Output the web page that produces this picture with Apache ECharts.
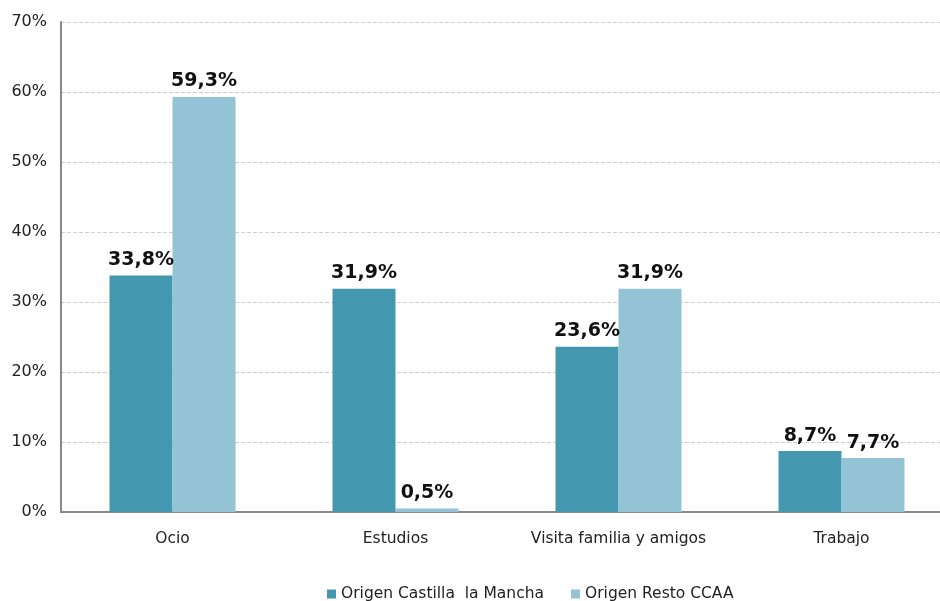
<!DOCTYPE html>
<html lang="es">
<head>
    <meta charset="UTF-8">
    <title>Motivo del viaje</title>
    <script src="https://cdn.jsdelivr.net/npm/echarts@6/dist/echarts.min.js"></script>
    <style>body{margin:0;background:#fff;overflow:hidden;}</style>
</head>
<body>
<!-- el grafico original queda recortado por la derecha -->
<div id="main" style="width: 960px;height:601px;"></div>

<script type="text/javascript">
    // datos
    var categorias = ['Ocio', 'Estudios', 'Visita familia y amigos', 'Trabajo'];
    var castillaLaMancha = [33.8, 31.9, 23.6, 8.7];
    var restoCCAA = [59.3, 0.5, 31.9, 7.7];
    var nombres = ['Origen Castilla  la Mancha', 'Origen Resto CCAA'];

    var myChart = echarts.init(document.getElementById('main'));

    function etiqueta(p) {
        return p.value.toFixed(1).replace('.', ',') + '%';
    }

    var labelStyle = {
        show: true,
        position: 'top',
        distance: 6,
        formatter: etiqueta,
        color: '#111',
        fontWeight: 'bold',
        fontSize: 19,
        fontFamily: 'DejaVu Sans'
    };

    var option = {
        textStyle: { fontFamily: 'DejaVu Sans' },
        animation: false,
        grid: { left: 61, top: 22, width: 892, height: 490 },
        legend: {
            top: 581,
            left: 322,
            itemWidth: 9,
            itemHeight: 9,
            itemGap: 27,
            icon: 'rect',
            textStyle: { fontSize: 15.5, color: '#222' },
            data: nombres
        },
        xAxis: {
            type: 'category',
            data: categorias,
            axisLine: { lineStyle: { color: '#888', width: 2 } },
            axisTick: { show: false },
            axisLabel: { interval: 0, color: '#222', fontSize: 15.5, margin: 19 }
        },
        yAxis: {
            type: 'value',
            min: 0,
            max: 70,
            interval: 10,
            axisLine: { show: true, lineStyle: { color: '#888', width: 2 } },
            axisTick: { show: false },
            axisLabel: { formatter: '{value}%', color: '#222', fontSize: 16, margin: 14 },
            splitLine: { lineStyle: { color: '#ccc', type: 'dashed' } }
        },
        series: [{
            name: nombres[0],
            type: 'bar',
            barWidth: 63,
            barGap: '0%',
            itemStyle: { color: '#4397AF' },
            label: labelStyle,
            data: castillaLaMancha
        }, {
            name: nombres[1],
            type: 'bar',
            barWidth: 63,
            itemStyle: { color: '#94C3D5' },
            label: labelStyle,
            data: restoCCAA
        }]
    };

    myChart.setOption(option);
</script>
</body>
</html>
